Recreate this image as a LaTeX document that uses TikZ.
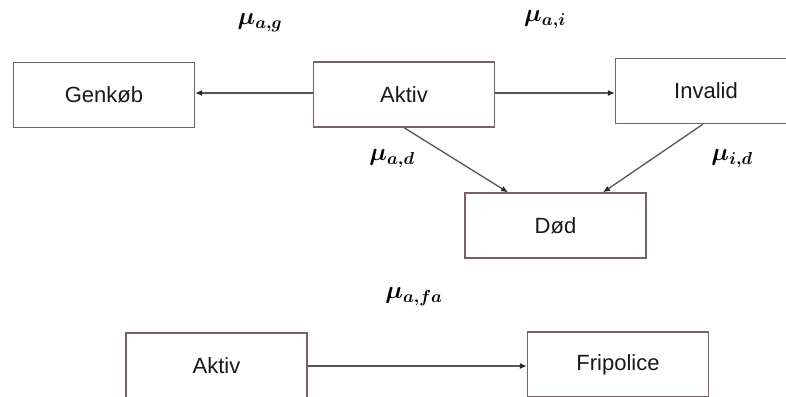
\documentclass[tikz,border=0pt]{standalone}
\usepackage{fontspec}
\setmainfont{Liberation Sans}
\DeclareMathSizes{26}{26}{19}{15}
\usetikzlibrary{arrows.meta}
\definecolor{boxline}{RGB}{125,95,105}
\definecolor{arrline}{RGB}{85,85,85}
\definecolor{tipcol}{RGB}{40,40,40}
\tikzset{
  state/.style={draw=boxline, line width=1.3pt, fill=white, rectangle,
    minimum width=181pt, minimum height=65pt, inner sep=0pt,
    font=\fontsize{22}{26}\selectfont, text=black!90},
  trans/.style={draw=arrline, line width=1.3pt,
    -{Latex[length=7pt,width=6pt,color=tipcol]}},
  rate/.style={font=\fontsize{26}{30}\selectfont\boldmath, inner sep=0pt}
}
\begin{document}
\begin{tikzpicture}[x=1pt,y=-1pt]
\useasboundingbox (0,0) rectangle (786,396);
\node[state] (genkob) at (104,95) {Genkøb};
\node[state] (aktiv) at (404,94.5) {Aktiv};
\node[state] (invalid) at (706,91) {Invalid};
\node[state] (dod) at (555.5,225.5) {Død};
\node[state] (aktiv2) at (216.5,365.5) {Aktiv};
\node[state] (fri) at (618,364.5) {Fripolice};

\draw[trans] (aktiv.west |- 0,93) -- (genkob.east |- 0,93);
\draw[trans] (aktiv.east |- 0,93) -- (invalid.west |- 0,93);
\draw[trans] (aktiv.south) -- ([xshift=-47.5pt]dod.north);
\draw[trans] ([xshift=-3pt]invalid.south) -- ([xshift=47.5pt]dod.north);
\draw[trans] (aktiv2.east |- 0,366) -- (fri.west |- 0,366);

\node[rate] (mag) at (260,23) {$\mu_{a,g}$};
\node[rate] (mai) at (545,20) {$\mu_{a,i}$};
\node[rate] (mad) at (392,159) {$\mu_{a,d}$};
\node[rate] (mid) at (732,159) {$\mu_{i,d}$};
\node[rate] (mafa) at (414,297) {$\mu_{a,fa}$};
\end{tikzpicture}
\end{document}
